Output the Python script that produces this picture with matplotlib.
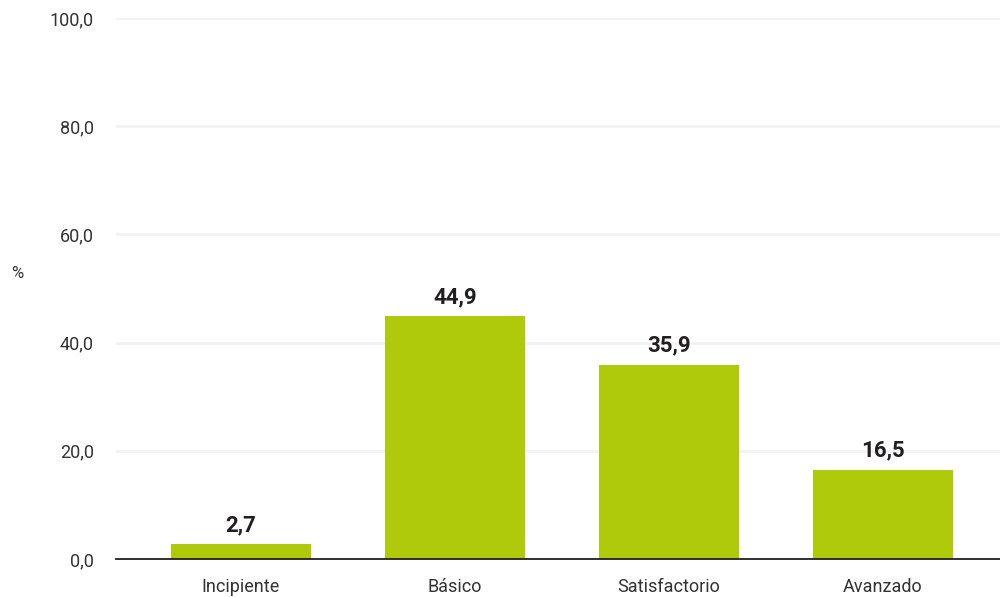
import matplotlib
matplotlib.use('Agg')
import matplotlib.pyplot as plt

# data
categories = ['Incipiente', 'Básico', 'Satisfactorio', 'Avanzado']
values = [2.7, 44.9, 35.9, 16.5]
yticks = [0, 20, 40, 60, 80, 100]

BAR_COLOR = '#afca0b'
TEXT_COLOR = '#231f20'
TICK_COLOR = '#333333'

plt.rcParams['font.family'] = ['Roboto', 'DejaVu Sans']

fig = plt.figure(figsize=(10, 5.97), dpi=100)
ax = fig.add_axes([0.116, 0.0637, 0.884, 0.9063])

x = list(range(len(categories)))
ax.bar(x, values, width=0.654, color=BAR_COLOR, zorder=2)

for xi, v in zip(x, values):
    ax.text(xi, v + 1.5, f'{v:.1f}'.replace('.', ','), ha='center', va='bottom',
            fontsize=16, fontweight='bold', color=TEXT_COLOR, fontstretch='condensed')

ax.set_xlim(-0.584, 3.547)
ax.set_ylim(0, 100)
ax.set_yticks(yticks)
ax.set_yticklabels([f'{t:.1f}'.replace('.', ',') for t in yticks], fontsize=13,
                   color=TICK_COLOR)
ax.set_xticks(x)
ax.set_xticklabels(categories, fontsize=13, color=TICK_COLOR)
ax.tick_params(axis='both', length=0)
ax.tick_params(axis='y', pad=16)
ax.tick_params(axis='x', pad=14)

ax.grid(axis='y', color='#f0f2f3', linewidth=2, zorder=0)
for s in ['top', 'right', 'left']:
    ax.spines[s].set_visible(False)
ax.spines['bottom'].set_color(TEXT_COLOR)
ax.spines['bottom'].set_linewidth(1.3)
ax.spines['bottom'].set_zorder(3)

fig.text(0.017, 0.542, '%', fontsize=12, color=TICK_COLOR, ha='center', va='center')

fig.savefig('out.png', dpi=100)
